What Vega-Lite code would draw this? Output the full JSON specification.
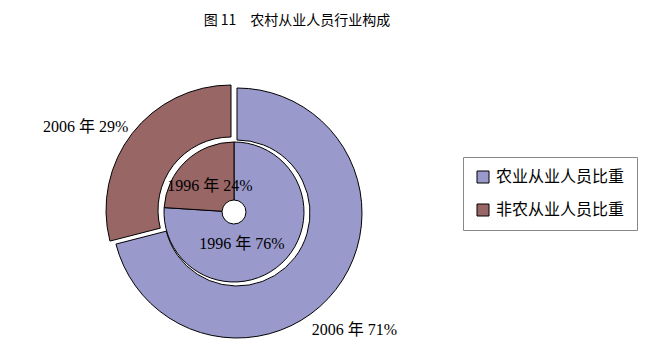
{
  "$schema": "https://vega.github.io/schema/vega-lite/v6.json",
  "autosize": {"type": "none"},
  "width": 468,
  "height": 304,
  "padding": {"left": 0, "top": 60, "right": 182, "bottom": 0},
  "background": "white",
  "title": {
    "text": "图 11　农村从业人员行业构成",
    "font": "Noto Sans CJK SC",
    "fontSize": 14,
    "fontWeight": "normal",
    "color": "#000000",
    "anchor": "middle",
    "dx": 63,
    "offset": 32
  },
  "data": {
    "values": [
      {"year": "2006", "cat": "农业从业人员比重", "ord": 1, "value": 71, "label": "2006 年 71%"},
      {"year": "2006", "cat": "非农从业人员比重", "ord": 2, "value": 29, "label": "2006 年 29%"},
      {"year": "1996", "cat": "农业从业人员比重", "ord": 1, "value": 76, "label": "1996 年 76%"},
      {"year": "1996", "cat": "非农从业人员比重", "ord": 2, "value": 24, "label": "1996 年 24%"}
    ]
  },
  "layer": [
    {
      "transform": [{"filter": "datum.year === '2006'"}],
      "mark": {"type": "arc", "innerRadius": 73, "outerRadius": 125, "stroke": "#000000", "strokeWidth": 1, "xOffset": 3, "yOffset": 1},
      "encoding": {
        "theta": {"field": "value", "type": "quantitative", "stack": true},
        "order": {"field": "ord", "type": "quantitative"},
        "color": {
          "field": "cat", "type": "nominal",
          "scale": {"domain": ["农业从业人员比重", "非农从业人员比重"], "range": ["#9999CC", "#996666"]},
          "legend": {
            "title": null,
            "orient": "none",
            "legendX": 463,
            "legendY": 97,
            "symbolType": "square",
            "symbolSize": 144,
            "symbolStrokeColor": "#000000",
            "symbolStrokeWidth": 1,
            "symbolOpacity": 1,
            "labelFont": "Noto Sans CJK SC",
            "labelFontSize": 16,
            "labelColor": "#000000",
            "labelOffset": 5,
            "rowPadding": 17,
            "padding": 12,
            "strokeColor": "#888888",
            "fillColor": "#ffffff"
          }
        },
        "opacity": {"condition": {"test": "datum.cat === '非农从业人员比重'", "value": 0}, "value": 1}
      }
    },
    {
      "transform": [{"filter": "datum.year === '2006'"}],
      "mark": {"type": "arc", "innerRadius": 73, "outerRadius": 125, "stroke": "#000000", "strokeWidth": 1, "xOffset": -3, "yOffset": -2},
      "encoding": {
        "theta": {"field": "value", "type": "quantitative", "stack": true},
        "order": {"field": "ord", "type": "quantitative"},
        "color": {"field": "cat", "type": "nominal"},
        "opacity": {"condition": {"test": "datum.cat === '农业从业人员比重'", "value": 0}, "value": 1}
      }
    },
    {
      "transform": [{"filter": "datum.year === '1996'"}],
      "mark": {"type": "arc", "innerRadius": 12, "outerRadius": 70, "stroke": "#000000", "strokeWidth": 1},
      "encoding": {
        "theta": {"field": "value", "type": "quantitative", "stack": true},
        "order": {"field": "ord", "type": "quantitative"},
        "color": {"field": "cat", "type": "nominal"}
      }
    },
    {
      "transform": [{"filter": "datum.year === '2006'"}],
      "mark": {"type": "text", "radius": 165, "font": "Liberation Serif, Noto Sans CJK SC", "fontSize": 16, "color": "#000000", "align": "center", "baseline": "middle", "xOffset": -18, "yOffset": 16},
      "encoding": {
        "theta": {"field": "value", "type": "quantitative", "stack": true},
        "order": {"field": "ord", "type": "quantitative"},
        "text": {"condition": {"test": "datum.cat === '非农从业人员比重'", "field": "label"}, "value": ""}
      }
    },
    {
      "transform": [{"filter": "datum.year === '2006'"}],
      "mark": {"type": "text", "radius": 165, "font": "Liberation Serif, Noto Sans CJK SC", "fontSize": 16, "color": "#000000", "align": "center", "baseline": "middle", "xOffset": -10, "yOffset": 17},
      "encoding": {
        "theta": {"field": "value", "type": "quantitative", "stack": true},
        "order": {"field": "ord", "type": "quantitative"},
        "text": {"condition": {"test": "datum.cat === '农业从业人员比重'", "field": "label"}, "value": ""}
      }
    },
    {
      "transform": [{"filter": "datum.year === '1996'"}],
      "mark": {"type": "text", "radius": 35, "font": "Liberation Serif, Noto Sans CJK SC", "fontSize": 16, "color": "#000000", "align": "center", "baseline": "middle"},
      "encoding": {
        "theta": {"field": "value", "type": "quantitative", "stack": true},
        "order": {"field": "ord", "type": "quantitative"},
        "text": {"condition": {"test": "datum.cat === '非农从业人员比重'", "field": "label"}, "value": ""}
      }
    },
    {
      "transform": [{"filter": "datum.year === '1996'"}],
      "mark": {"type": "text", "radius": 35, "font": "Liberation Serif, Noto Sans CJK SC", "fontSize": 16, "color": "#000000", "align": "center", "baseline": "middle", "xOffset": -16, "yOffset": 6},
      "encoding": {
        "theta": {"field": "value", "type": "quantitative", "stack": true},
        "order": {"field": "ord", "type": "quantitative"},
        "text": {"condition": {"test": "datum.cat === '农业从业人员比重'", "field": "label"}, "value": ""}
      }
    }
  ],
  "config": {"view": {"stroke": null}}
}
